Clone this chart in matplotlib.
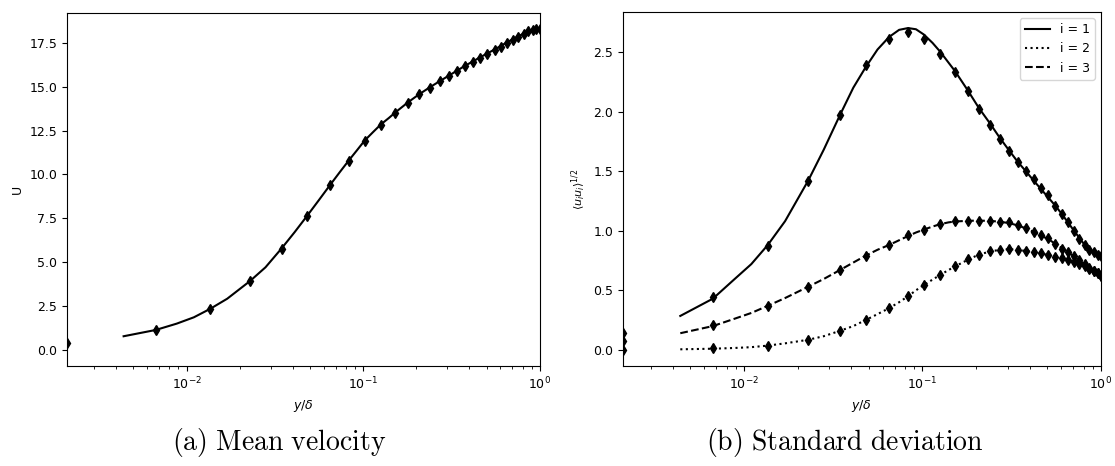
import numpy as np
import matplotlib
matplotlib.use("Agg")
import matplotlib.pyplot as plt

plt.rcParams["mathtext.fontset"] = "dejavusans"

## marker data (sampled points) ##
y_pts = [0.0021, 0.0067, 0.0136, 0.0229, 0.0345, 0.048, 0.065, 0.083, 0.102, 0.126,
         0.152, 0.179, 0.207, 0.239, 0.271, 0.307, 0.341, 0.379, 0.42, 0.461,
         0.506, 0.555, 0.604, 0.653, 0.706, 0.757, 0.811, 0.862, 0.912, 0.959, 1.0]
U_pts = [0.38, 1.14, 2.34, 3.93, 5.78, 7.62, 9.40, 10.79, 11.93, 12.83,
         13.53, 14.10, 14.56, 14.94, 15.30, 15.63, 15.90, 16.20, 16.43, 16.64,
         16.87, 17.08, 17.29, 17.50, 17.69, 17.86, 18.01, 18.15, 18.22, 18.28, 18.30]
s1_pts = [0.14, 0.44, 0.875, 1.42, 1.97, 2.39, 2.61, 2.67, 2.61, 2.48,
          2.33, 2.17, 2.02, 1.89, 1.77, 1.67, 1.58, 1.50, 1.43, 1.36,
          1.30, 1.21, 1.14, 1.07, 1.00, 0.93, 0.88, 0.84, 0.82, 0.80, 0.79]
s2_pts = [0.0, 0.014, 0.036, 0.083, 0.16, 0.25, 0.35, 0.45, 0.545, 0.63,
          0.70, 0.76, 0.80, 0.83, 0.84, 0.845, 0.84, 0.83, 0.82, 0.81,
          0.80, 0.78, 0.77, 0.755, 0.74, 0.72, 0.70, 0.68, 0.665, 0.645, 0.62]
s3_pts = [0.075, 0.21, 0.37, 0.53, 0.67, 0.79, 0.88, 0.96, 1.01, 1.06,
          1.08, 1.085, 1.085, 1.08, 1.075, 1.07, 1.045, 1.02, 0.99, 0.96,
          0.935, 0.89, 0.85, 0.82, 0.79, 0.755, 0.72, 0.69, 0.665, 0.643, 0.62]

## reference curves ##
y_ref = [0.0044, 0.0067, 0.0088, 0.011, 0.0136, 0.017, 0.0229, 0.028, 0.0345, 0.041,
         0.048, 0.056, 0.065, 0.074, 0.083, 0.092, 0.102, 0.114, 0.126, 0.14,
         0.152, 0.179, 0.207, 0.239, 0.271, 0.307, 0.341, 0.379, 0.42, 0.461,
         0.506, 0.555, 0.604, 0.653, 0.706, 0.757, 0.811, 0.862, 0.912, 0.959, 1.0]
U_ref = [0.78, 1.14, 1.50, 1.86, 2.34, 2.92, 3.93, 4.71, 5.78, 6.72,
         7.62, 8.52, 9.40, 10.15, 10.80, 11.36, 11.93, 12.42, 12.85, 13.22,
         13.53, 14.10, 14.56, 14.97, 15.31, 15.64, 15.92, 16.20, 16.45, 16.68,
         16.90, 17.12, 17.33, 17.53, 17.71, 17.88, 18.02, 18.14, 18.23, 18.28, 18.30]
s1_ref = [0.285, 0.43, 0.59, 0.72, 0.88, 1.08, 1.42, 1.68, 1.97, 2.20,
          2.37, 2.52, 2.625, 2.685, 2.70, 2.69, 2.645, 2.575, 2.50, 2.41,
          2.34, 2.18, 2.03, 1.90, 1.78, 1.67, 1.58, 1.50, 1.42, 1.35,
          1.28, 1.21, 1.14, 1.07, 1.00, 0.94, 0.88, 0.84, 0.81, 0.80, 0.79]
s2_ref = [0.005, 0.01, 0.016, 0.023, 0.036, 0.055, 0.085, 0.115, 0.16, 0.20,
          0.25, 0.30, 0.35, 0.40, 0.45, 0.50, 0.545, 0.59, 0.63, 0.67,
          0.70, 0.755, 0.80, 0.825, 0.84, 0.845, 0.84, 0.83, 0.82, 0.81,
          0.795, 0.78, 0.765, 0.75, 0.735, 0.715, 0.695, 0.675, 0.655, 0.635, 0.62]
s3_ref = [0.14, 0.20, 0.26, 0.31, 0.37, 0.435, 0.53, 0.595, 0.67, 0.733,
          0.79, 0.84, 0.88, 0.92, 0.955, 0.985, 1.01, 1.035, 1.055, 1.07,
          1.077, 1.083, 1.085, 1.082, 1.076, 1.063, 1.045, 1.02, 0.99, 0.96,
          0.93, 0.89, 0.855, 0.82, 0.785, 0.75, 0.72, 0.69, 0.665, 0.64, 0.62]

fig = plt.figure(figsize=(11.15, 4.66), dpi=100)
ax1 = fig.add_axes([0.060, 0.2146, 0.424, 0.7575])
ax2 = fig.add_axes([0.5587, 0.2146, 0.4287, 0.7597])

mk = dict(marker="d", color="k", markersize=5, linestyle="none")

## (a) mean velocity ##
ax1.plot(y_ref, U_ref, "k-", lw=1.5)
ax1.plot(y_pts, U_pts, **mk)
ax1.set_xscale("log")
ax1.set_xlim(0.0021, 1.0)
ax1.set_ylim(-0.915, 19.2)
ax1.set_xlabel(r"$y/\delta$", fontsize=9)
ax1.set_ylabel("U", fontsize=9)
ax1.tick_params(labelsize=9)

## (b) standard deviation ##
ax2.plot(y_ref, s1_ref, "k-", lw=1.5, label="i = 1")
ax2.plot(y_ref, s2_ref, "k:", lw=1.5, label="i = 2")
ax2.plot(y_ref, s3_ref, "k--", lw=1.5, label="i = 3")
ax2.plot(y_pts, s1_pts, **mk)
ax2.plot(y_pts, s2_pts, **mk)
ax2.plot(y_pts, s3_pts, **mk)
ax2.set_xscale("log")
ax2.set_xlim(0.0021, 1.0)
ax2.set_ylim(-0.135, 2.835)
ax2.set_xlabel(r"$y/\delta$", fontsize=9)
ax2.set_ylabel(r"$\langle u_i u_i \rangle^{1/2}$", fontsize=8)
ax2.tick_params(labelsize=9)
ax2.legend(loc="upper right", fontsize=9)

## captions ##
fig.text(0.25, 0.05, r"$\mathrm{(a)\ Mean\ velocity}$", ha="center", va="center",
         fontsize=20, math_fontfamily="cm")
fig.text(0.758, 0.05, r"$\mathrm{(b)\ Standard\ deviation}$", ha="center", va="center",
         fontsize=20, math_fontfamily="cm")

fig.savefig("out.png", dpi=100)
